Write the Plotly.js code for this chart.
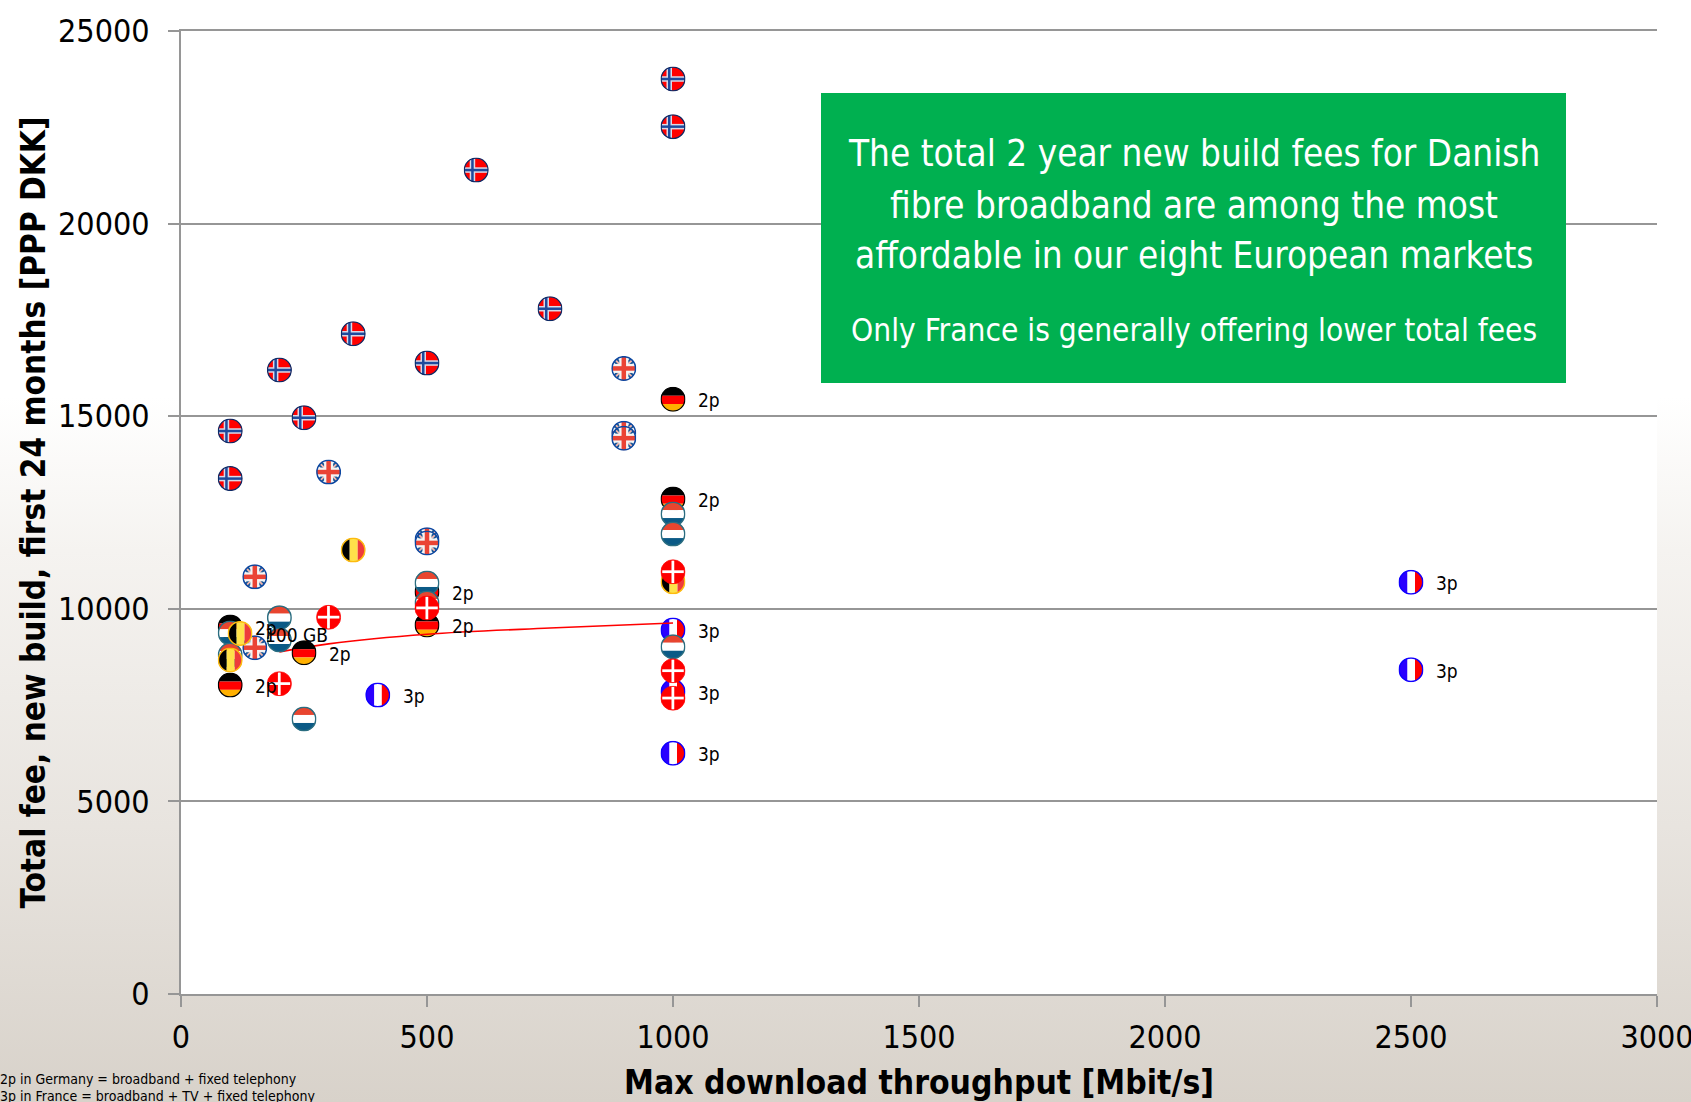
<!DOCTYPE html>
<html><head><meta charset="utf-8">
<script src="https://cdn.plot.ly/plotly-3.0.1.min.js"></script>
<style>
html,body{margin:0;padding:0;width:1691px;height:1102px;overflow:hidden;
background:linear-gradient(to bottom,#ffffff 0%,#ffffff 36%,#f5f3f0 50%,#e8e4df 75%,#d8d2ca 100%);}
#chart{width:1691px;height:1102px;}
</style></head><body><div id="chart"></div>
<script>
const FONT='"DejaVu Sans Condensed","DejaVu Sans",sans-serif';
// Norway
const noX=[1000,1000,600,750,350,500,200,250,100,100];
const noY=[23754,22517,21390,17790,17140,16380,16200,14960,14615,13380];
// France
const frX=[2500,2500,400,1000,1000,1000];
const frY=[10690,8420,7760,9450,7850,6250];
const frLabels=['3p','3p','3p','3p','3p','3p'];
// Germany
const deX=[1000,1000,500,500,100,100,250];
const deY=[15440,12850,10440,9580,9530,8020,8860];
const deLabels=['2p','2p','2p','2p','2p','2p','2p'];
// Netherlands
const nlX=[1000,1000,1000,500,500,200,200,100,100,250];
const nlY=[12460,11940,9015,10670,10150,9770,9190,9370,8800,7140];
// United Kingdom
const ukX=[900,900,900,300,150,500,500,150];
const ukY=[16240,14560,14430,13550,10830,11790,11710,8990];
// Belgium
const beX=[350,120,100,1000];
const beY=[11525,9360,8670,10700];
// Denmark
const dkX=[300,200,500,1000,1000,1000];
const dkY=[9780,8055,10020,10960,8390,7680];
// Red line through the 100 GB offers
const lineX=[200,300,500,750,1000];
const lineY=[8880,9090,9340,9500,9630];
const capLabel='100 GB'; const capX=235; const capY=9320;
// Axis ticks
const xTicks=[0,500,1000,1500,2000,2500,3000];
const yTicks=[0,5000,10000,15000,20000,25000];
// Text
const calloutLines=['The total 2 year new build fees for Danish','fibre broadband are among the most','affordable in our eight European markets'];
const calloutSub='Only France is generally offering lower total fees';
const notes=['2p in Germany = broadband + fixed telephony','3p in France = broadband + TV + fixed telephony'];

function flag(inner,border,bw){
  const svg='<svg xmlns="http://www.w3.org/2000/svg" width="100" height="100" viewBox="0 0 100 100"><defs><clipPath id="c"><circle cx="50" cy="50" r="48"/></clipPath></defs><g clip-path="url(#c)">'+inner+'</g><circle cx="50" cy="50" r="'+(50-bw/2)+'" fill="none" stroke="'+border+'" stroke-width="'+bw+'"/></svg>';
  return 'data:image/svg+xml;charset=utf-8,'+encodeURIComponent(svg);
}
const R=(x,y,w,h,c)=>'<rect x="'+x+'" y="'+y+'" width="'+w+'" height="'+h+'" fill="'+c+'"/>';
const FLAGS={
 no:flag(R(0,0,100,100,'#ff0000')+R(0,39,100,22,'#d9d9e8')+R(24,0,22,100,'#d9d9e8')+R(0,45,100,10,'#1f4a9c')+R(30,0,10,100,'#1f4a9c'),'#0b2a66',5),
 uk:flag(R(0,0,100,100,'#f4f4f4')+'<path d="M0 0L100 100M100 0L0 100" stroke="#1c5a96" stroke-width="22"/><path d="M0 0L100 100M100 0L0 100" stroke="#f6b8b0" stroke-width="7"/>'+R(0,32,100,36,'#f4f4f4')+R(32,0,36,100,'#f4f4f4')+R(0,41,100,18,'#ea4335')+R(41,0,18,100,'#ea4335'),'#0d47a1',6),
 de:flag(R(0,0,100,36,'#000000')+R(0,36,100,33,'#ff0000')+R(0,69,100,31,'#ffb000'),'#000000',5),
 be:flag(R(0,0,36,100,'#000000')+R(36,0,32,100,'#ffe14a')+R(68,0,32,100,'#ee3b3b'),'#fdbb0f',6),
 nl:flag(R(0,0,100,34,'#e8452f')+R(0,34,100,32,'#ffffff')+R(0,66,100,34,'#0b5a86'),'#2a6d80',6),
 fr:flag(R(0,0,36,100,'#2a00ff')+R(36,0,30,100,'#ffffff')+R(66,0,34,100,'#ff0000'),'#1000ff',6),
 dk:flag(R(0,0,100,100,'#ff0000')+R(7,44,86,11,'#ffffff')+R(44,5,11,90,'#ffffff'),'#ff0000',3)
};
const groups=[['Norway','no',noX,noY],['France','fr',frX,frY],['Germany','de',deX,deY],['Netherlands','nl',nlX,nlY],['United Kingdom','uk',ukX,ukY],['Belgium','be',beX,beY],['Denmark','dk',dkX,dkY]];
const traces=groups.map(g=>({type:'scatter',mode:'markers',name:g[0],x:g[2],y:g[3],marker:{size:25,opacity:0},hoverinfo:'name+x+y'}));
traces.push({type:'scatter',mode:'lines',name:'100 GB',x:lineX,y:lineY,line:{color:'#ff0000',width:1.6,shape:'spline'},hoverinfo:'skip'});

const W=1476,H=963;
const SX=25/(W/3000), SY=25/(H/25000);
const images=[];
groups.forEach(g=>g[2].forEach((x,i)=>{
  const y=g[3][i];
  const under=(g[1]==='de'&&x===500&&y===9580)||(g[1]==='fr'&&x===1000&&y===9450);
  images.push({source:FLAGS[g[1]],xref:'x',yref:'y',x:x,y:y,sizex:SX,sizey:SY,xanchor:'center',yanchor:'middle',sizing:'stretch',layer:under?'below':'above'});
}));
const annotations=[];
function tag(x,y,t){annotations.push({xref:'x',yref:'y',x:x,y:y,text:t,showarrow:false,xanchor:'left',yanchor:'middle',xshift:23,yshift:-1,font:{family:FONT,size:19,color:'#000'}});}
frX.forEach((x,i)=>tag(x,frY[i],frLabels[i]));
deX.forEach((x,i)=>tag(x,deY[i],deLabels[i]));
annotations.push({xref:'x',yref:'y',x:capX,y:capY,text:capLabel,showarrow:false,xanchor:'center',yanchor:'middle',font:{family:FONT,size:19,color:'#000'}});
const px=v=>(v-181)/W, py=v=>(994-v)/H;
[153,205,255.6].forEach((y,i)=>annotations.push({xref:'paper',yref:'paper',x:px(1193.5),y:py(y),text:calloutLines[i],showarrow:false,xanchor:'center',yanchor:'middle',font:{family:FONT,size:36.6,color:'#fff'}}));
annotations.push({xref:'paper',yref:'paper',x:px(1193.5),y:py(330),text:calloutSub,showarrow:false,xanchor:'center',yanchor:'middle',font:{family:FONT,size:31.4,color:'#fff'}});
[1079,1096].forEach((y,i)=>annotations.push({xref:'paper',yref:'paper',x:px(0),y:py(y),xshift:-2,text:notes[i],showarrow:false,xanchor:'left',yanchor:'middle',font:{family:FONT,size:14,color:'#000'}}));

Plotly.newPlot('chart',traces,{
 width:1691,height:1102,showlegend:false,hovermode:'closest',
 paper_bgcolor:'rgba(0,0,0,0)',plot_bgcolor:'#ffffff',
 margin:{l:181,r:34,t:31,b:108,pad:0},
 xaxis:{range:[0,3000],tickvals:xTicks,tickformat:'d',ticks:'outside',ticklen:11,tickwidth:2,tickcolor:'#969696',showgrid:false,showline:true,mirror:true,linecolor:'#969696',linewidth:2,zeroline:false,
   tickfont:{family:FONT,size:32,color:'#000'},ticklabelstandoff:3,ticklabeloverflow:'allow',
   title:{text:'Max download throughput [Mbit/s]',font:{family:FONT,size:33.4,color:'#000',weight:'bold'},standoff:23},automargin:false},
 yaxis:{range:[0,25000],tickvals:yTicks,tickformat:'d',ticks:'outside',ticklen:11,tickwidth:2,tickcolor:'#969696',showgrid:true,gridcolor:'#969696',gridwidth:1.6,showline:true,linecolor:'#969696',linewidth:2,zeroline:false,
   tickfont:{family:FONT,size:32,color:'#000'},ticklabelstandoff:12,
   title:{text:'Total fee, new build, first 24 months [PPP DKK]',font:{family:FONT,size:33.1,color:'#000',weight:'bold'},standoff:2},automargin:false},
 shapes:[{type:'rect',xref:'paper',yref:'paper',x0:px(821),x1:px(1566),y0:py(383),y1:py(93),fillcolor:'#00b050',line:{width:0},layer:'above'}],
 images:images,annotations:annotations
},{displayModeBar:false});
</script></body></html>
